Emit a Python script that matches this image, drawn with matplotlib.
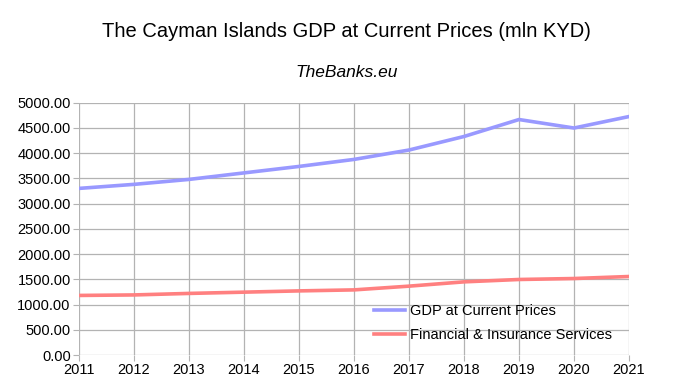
import matplotlib
matplotlib.use("Agg")
import matplotlib.pyplot as plt

plt.rcParams['font.family'] = ['Liberation Sans', 'DejaVu Sans']

# data
years = [2011, 2012, 2013, 2014, 2015, 2016, 2017, 2018, 2019, 2020, 2021]
gdp = [3300, 3380, 3478, 3607, 3735, 3874, 4060, 4328, 4664, 4496, 4723]
fin_ins = [1180, 1190, 1220, 1245, 1270, 1290, 1364, 1449, 1496, 1515, 1555]

fig = plt.figure(figsize=(6.93, 3.90), dpi=100)
ax = fig.add_axes([0.114, 0.0897, 0.7936, 0.6473])

ax.plot(years, gdp, color='#9999ff', linewidth=2.6, label='GDP at Current Prices')
ax.plot(years, fin_ins, color='#ff8080', linewidth=2.6, label='Financial & Insurance Services')

ax.set_xlim(2011, 2021)
ax.set_ylim(0, 5000)
ax.set_xticks(years)
ax.set_yticks(range(0, 5001, 500))
ax.set_yticklabels([f'{v:.2f}' for v in range(0, 5001, 500)])
ax.grid(True, color='#b3b3b3', linewidth=0.9)
ax.set_axisbelow(True)
for s in ax.spines.values():
    s.set_visible(False)
ax.tick_params(axis='both', length=4, color='#b3b3b3', labelsize=10.5, pad=2)

ax.legend(loc='lower right', bbox_to_anchor=(0.993, 0.0), frameon=False, fontsize=10.5,
          handlelength=2.1, handletextpad=0.35, labelspacing=0.65)

fig.text(0.5, 0.918, 'The Cayman Islands GDP at Current Prices (mln KYD)',
         ha='center', va='center', fontsize=14.5)
fig.text(0.5, 0.815, 'TheBanks.eu', ha='center', va='center', fontsize=12.5, style='italic')

fig.savefig('out.png', dpi=100, facecolor='white')
